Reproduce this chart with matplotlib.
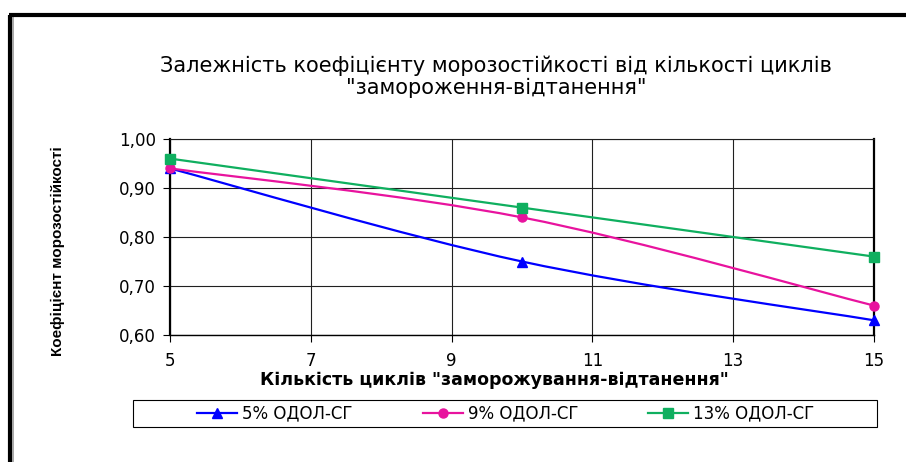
import matplotlib.pyplot as plt
from matplotlib.path import Path
from matplotlib.patches import PathPatch, Rectangle
from matplotlib.lines import Line2D
from matplotlib.ticker import FuncFormatter

# freeze-thaw cycles and frost resistance coefficients
cycles = [5, 10, 15]
odol_5 = [0.94, 0.75, 0.63]
odol_9 = [0.94, 0.84, 0.66]
odol_13 = [0.96, 0.86, 0.76]

labels = ["5% ОДОЛ-СГ", "9% ОДОЛ-СГ", "13% ОДОЛ-СГ"]
colors = ["#0000FF", "#E8139E", "#0FAF5F"]
markers = ["^", "o", "s"]

plt.rcParams["font.family"] = ["DejaVu Sans"]


def smooth_path(xs, ys):
    # Bezier segments through the points, like a spreadsheet "smoothed line"
    pts = list(zip(xs, ys))
    verts = [pts[0]]
    codes = [Path.MOVETO]
    n = len(pts)
    for i in range(n - 1):
        p0 = pts[i - 1] if i > 0 else pts[i]
        p1 = pts[i]
        p2 = pts[i + 1]
        p3 = pts[i + 2] if i + 2 < n else pts[i + 1]
        c1 = (p1[0] + (p2[0] - p0[0]) / 6, p1[1] + (p2[1] - p0[1]) / 6)
        c2 = (p2[0] - (p3[0] - p1[0]) / 6, p2[1] - (p3[1] - p1[1]) / 6)
        verts += [c1, c2, p2]
        codes += [Path.CURVE4] * 3
    return Path(verts, codes)


W, H = 906, 462
fig = plt.figure(figsize=(W / 100, H / 100), dpi=100)
ax = fig.add_axes([170 / W, 1 - 335 / H, 704 / W, 196 / H])

for ys, lab, col, mk in zip([odol_5, odol_9, odol_13], labels, colors, markers):
    ax.add_patch(PathPatch(smooth_path(cycles, ys), facecolor="none",
                           edgecolor=col, lw=1.6, zorder=3))
    ax.plot(cycles, ys, linestyle="none", marker=mk, color=col,
            markersize=6.5, zorder=4, clip_on=False)

ax.set_xlim(5, 15)
ax.set_ylim(0.6, 1.0)
ax.set_xticks([5, 7, 9, 11, 13, 15])
ax.set_yticks([0.6, 0.7, 0.8, 0.9, 1.0])
ax.yaxis.set_major_formatter(FuncFormatter(lambda v, p: f"{v:.2f}".replace(".", ",")))
ax.grid(True, color="#202020", lw=0.8)
ax.set_axisbelow(True)
ax.spines["top"].set_linewidth(0.8)
ax.spines["top"].set_color("#202020")
ax.spines["right"].set_linewidth(1.6)
ax.spines["left"].set_linewidth(1.6)
ax.spines["bottom"].set_linewidth(1.0)
ax.tick_params(direction="out", length=5, width=0.8, labelsize=12, pad=5)
ax.tick_params(axis="x", pad=7)

ax.set_xlabel('Кількість циклів "заморожування-відтанення"', fontsize=12.5,
              fontweight="bold")
ax.xaxis.set_label_coords(0.461, -(371 - 335) / 196)
ax.set_ylabel("Коефіцієнт морозостійкості",
              family=["Liberation Sans Narrow", "Liberation Sans", "DejaVu Sans"],
              fontsize=11, fontweight="bold")
ax.yaxis.set_label_coords(-(170 - 65) / 704, 0.43)

fig.text(496 / W, 1 - 77 / H, "Залежність коефіцієнту морозостійкості від кількості циклів\n"
         '"замороження-відтанення"', ha="center", va="center", fontsize=15,
         linespacing=1.1)

# legend box across the bottom, entries centred inside it
fig.add_artist(Rectangle((133 / W, 1 - 427 / H), 744 / W, 27 / H, fill=False,
                         edgecolor="black", lw=0.8, transform=fig.transFigure))
handles = [Line2D([], [], color=c, marker=m, lw=1.6, markersize=6.5)
           for c, m in zip(colors, markers)]
fig.legend(handles, labels, loc="center", ncol=3, bbox_to_anchor=(506 / W, 1 - 413.5 / H),
           fontsize=12, frameon=False, handlelength=2.4, handletextpad=0.3,
           columnspacing=4.2, borderpad=0)

# outer frame of the chart area
fig.add_artist(Line2D([10 / W, 10 / W], [0, 1 - 15 / H], color="black", lw=3,
                      transform=fig.transFigure, solid_capstyle="butt"))
fig.add_artist(Line2D([13 / W, 13 / W], [0, 1 - 17 / H], color="#999999", lw=1.2,
                      transform=fig.transFigure))
fig.add_artist(Line2D([9 / W, 1], [1 - 15 / H, 1 - 15 / H], color="black", lw=3,
                      transform=fig.transFigure, solid_capstyle="butt"))

fig.savefig("out.png", dpi=100)
